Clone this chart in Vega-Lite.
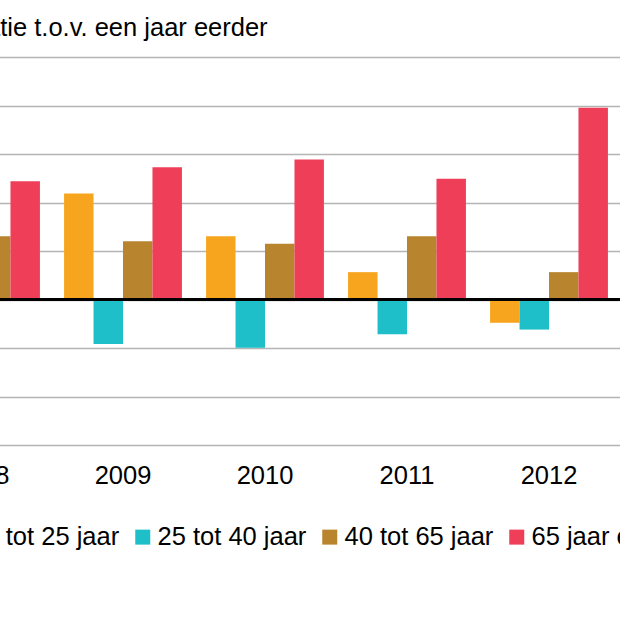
{
  "$schema": "https://vega.github.io/schema/vega-lite/v6.json",
  "width": 710,
  "height": 388,
  "autosize": {"type": "none"},
  "padding": {"left": -90, "top": 57, "right": 0, "bottom": 175},
  "background": "#ffffff",
  "config": {
    "font": "Liberation Sans",
    "view": {"stroke": null},
    "axis": {"labelColor": "#000000", "titleColor": "#000000"}
  },
  "data": {
    "values": [
      {"jaar": "2008", "leeftijd": "40 tot 65 jaar", "mutatie": 32.6},
      {"jaar": "2008", "leeftijd": "65 jaar en ouder", "mutatie": 61.0},
      {"jaar": "2009", "leeftijd": "0 tot 25 jaar", "mutatie": 54.6},
      {"jaar": "2009", "leeftijd": "25 tot 40 jaar", "mutatie": -22.9},
      {"jaar": "2009", "leeftijd": "40 tot 65 jaar", "mutatie": 30.0},
      {"jaar": "2009", "leeftijd": "65 jaar en ouder", "mutatie": 68.2},
      {"jaar": "2010", "leeftijd": "0 tot 25 jaar", "mutatie": 32.6},
      {"jaar": "2010", "leeftijd": "25 tot 40 jaar", "mutatie": -24.9},
      {"jaar": "2010", "leeftijd": "40 tot 65 jaar", "mutatie": 28.7},
      {"jaar": "2010", "leeftijd": "65 jaar en ouder", "mutatie": 72.2},
      {"jaar": "2011", "leeftijd": "0 tot 25 jaar", "mutatie": 14.1},
      {"jaar": "2011", "leeftijd": "25 tot 40 jaar", "mutatie": -17.9},
      {"jaar": "2011", "leeftijd": "40 tot 65 jaar", "mutatie": 32.6},
      {"jaar": "2011", "leeftijd": "65 jaar en ouder", "mutatie": 62.2},
      {"jaar": "2012", "leeftijd": "0 tot 25 jaar", "mutatie": -12.0},
      {"jaar": "2012", "leeftijd": "25 tot 40 jaar", "mutatie": -15.5},
      {"jaar": "2012", "leeftijd": "40 tot 65 jaar", "mutatie": 14.1},
      {"jaar": "2012", "leeftijd": "65 jaar en ouder", "mutatie": 98.8}
    ]
  },
  "layer": [
    {
      "mark": {"type": "bar"},
      "encoding": {
        "x": {
          "field": "jaar",
          "type": "nominal",
          "scale": {"paddingInner": 0.17, "paddingOuter": 0.085},
          "axis": {
            "title": null,
            "labelAngle": 0,
            "domain": false,
            "ticks": false,
            "labelPadding": 18,
            "labelFontSize": 25.5
          }
        },
        "xOffset": {
          "field": "leeftijd",
          "type": "nominal",
          "scale": {
            "domain": ["0 tot 25 jaar", "25 tot 40 jaar", "40 tot 65 jaar", "65 jaar en ouder"],
            "paddingInner": 0,
            "paddingOuter": 0
          }
        },
        "y": {
          "field": "mutatie",
          "type": "quantitative",
          "scale": {"domain": [-75, 125], "nice": false},
          "axis": {
            "values": [-75, -50, -25, 0, 25, 50, 75, 100, 125],
            "domain": false,
            "ticks": false,
            "grid": true,
            "gridColor": "#b4b4b4",
            "gridWidth": 1.5,
            "labelFontSize": 25.5,
            "title": "Mutatie t.o.v. een jaar eerder",
            "titleAngle": 0,
            "titleAlign": "left",
            "titleBaseline": "alphabetic",
            "titleX": 33,
            "titleY": -22,
            "titleFontSize": 25.5,
            "titleFontWeight": "normal"
          }
        },
        "color": {
          "field": "leeftijd",
          "type": "nominal",
          "scale": {
            "domain": ["0 tot 25 jaar", "25 tot 40 jaar", "40 tot 65 jaar", "65 jaar en ouder"],
            "range": ["#f7a51e", "#1fbfc9", "#b9842e", "#ee3e58"]
          },
          "legend": {
            "title": null,
            "orient": "none",
            "direction": "horizontal",
            "legendX": 47,
            "legendY": 467,
            "symbolType": "square",
            "symbolSize": 225,
            "symbolStrokeWidth": 0,
            "labelFontSize": 25.5,
            "labelOffset": 2,
            "columnPadding": 10,
            "labelColor": "#000000"
          }
        }
      }
    },
    {
      "mark": {"type": "rule", "color": "#000000", "strokeWidth": 2},
      "encoding": {"y": {"datum": 0}}
    }
  ]
}
